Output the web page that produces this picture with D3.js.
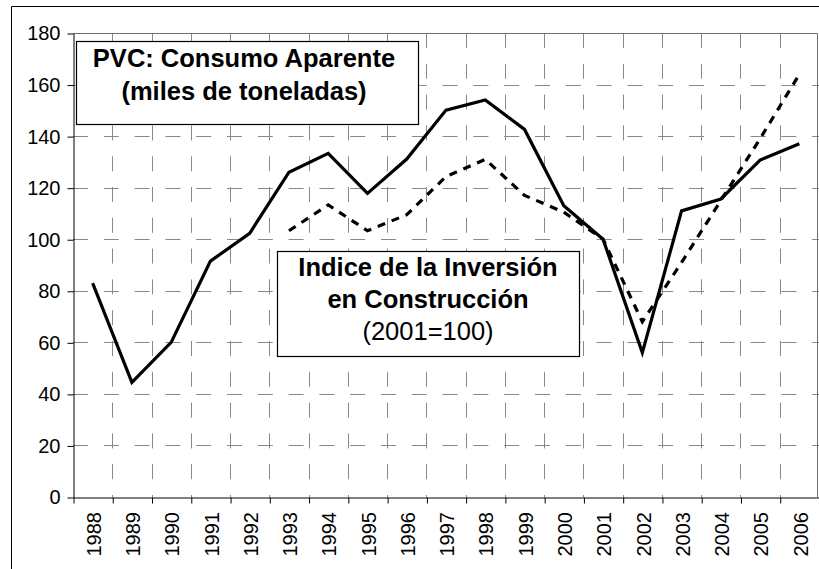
<!DOCTYPE html>
<html>
<head>
<meta charset="utf-8">
<script src="https://cdn.jsdelivr.net/npm/d3@7"></script>
<style>
  html, body { margin: 0; padding: 0; background: #fff; }
  svg { display: block; font-family: Arial, "Liberation Sans", sans-serif; }
</style>
</head>
<body>
<svg id="chart" width="819" height="569" viewBox="0 0 819 569"></svg>
<script>
// Years on the category axis
const years = ["1988","1989","1990","1991","1992","1993","1994","1995","1996","1997",
               "1998","1999","2000","2001","2002","2003","2004","2005","2006"];
// PVC apparent consumption (thousand tonnes)
const pvc = [83, 44.5, 60, 91.5, 102.3, 126, 133.3, 117.8, 131.1, 150.1,
             154, 142.6, 113, 100, 56, 111, 115.6, 130.7, 137];
// Construction investment index (2001=100); no data before 1993
const indice = [null, null, null, null, null, 103.3, 113.3, 103.3, 109.5, 124.3,
                131, 117, 110.5, 100, 68, 91, 115, 139, 164];
// Value-axis ticks
const yTicks = [0, 20, 40, 60, 80, 100, 120, 140, 160, 180];

const svg = d3.select("#chart");
const plot = { left: 73, right: 819, top: 33, bottom: 497 };

const x = d3.scaleBand().domain(years).range([plot.left, plot.right]).padding(0);
const xEdge = d3.scaleLinear().domain([0, years.length]).range([plot.left, plot.right]);
const y = d3.scaleLinear().domain([0, 180]).range([plot.bottom, plot.top]);

const gridColor = "#888888";

// Outer chart frame (left and top edges fall inside the page)
svg.append("path")
  .attr("d", "M11.5,569V6.5H819")
  .attr("fill", "none").attr("stroke", "#000").attr("stroke-width", 1);

// Horizontal gridlines
svg.append("path")
  .attr("d", yTicks.filter(v => v > 0 && v < 180)
    .map(v => `M${plot.left},${Math.round(y(v)) + 0.5}H${plot.right}`).join(""))
  .attr("fill", "none")
  .attr("stroke", gridColor)
  .attr("stroke-width", 1)
  .attr("stroke-dasharray", "15 15.8");

// Vertical gridlines on the category edges, dashed from the top down
svg.append("path")
  .attr("d", d3.range(1, years.length)
    .map(i => `M${Math.round(xEdge(i)) + 0.5},${plot.top}V${plot.bottom}`).join(""))
  .attr("fill", "none")
  .attr("stroke", gridColor)
  .attr("stroke-width", 1)
  .attr("stroke-dasharray", "15 15.8");

// Plot area border (top and right)
svg.append("path")
  .attr("d", `M${plot.left},${plot.top + 0.5}H${plot.right - 1.5}V${plot.bottom}`)
  .attr("fill", "none").attr("stroke", "#707070").attr("stroke-width", 1);

// Value axis
const yAxis = svg.append("g")
  .attr("transform", `translate(${plot.left + 0.5},0.5)`)
  .call(d3.axisLeft(y).tickValues(yTicks).tickSize(6).tickPadding(7).tickSizeOuter(0));
yAxis.select(".domain").attr("stroke", "#000");
yAxis.selectAll(".tick line").attr("stroke", "#000");
yAxis.selectAll(".tick text")
  .attr("font-family", "Arial, 'Liberation Sans', sans-serif")
  .attr("font-size", 20).attr("fill", "#000");

// Category axis: ticks on the category edges, labels centred in each band
const xAxis = svg.append("g")
  .attr("transform", `translate(0.5,${plot.bottom + 0.5})`)
  .call(d3.axisBottom(xEdge).tickValues(d3.range(0, years.length + 1)).tickSize(6).tickFormat("").tickSizeOuter(0));
xAxis.select(".domain").attr("stroke", "#000");
xAxis.selectAll(".tick line").attr("stroke", "#000");

const xLabels = svg.append("g")
  .attr("transform", `translate(0,${plot.bottom})`)
  .call(d3.axisBottom(x).tickSize(0).tickPadding(0));
xLabels.select(".domain").remove();
xLabels.selectAll(".tick text")
  .attr("font-family", "Arial, 'Liberation Sans', sans-serif")
  .attr("font-size", 20).attr("fill", "#000")
  .attr("text-anchor", "end")
  .attr("transform", "translate(1,15) rotate(-90)")
  .attr("x", 0).attr("y", 0).attr("dy", "0.36em");

// Series lines
const cx = (d, i) => x(years[i]) + x.bandwidth() / 2;
const lineGen = d3.line().defined(d => d != null).x(cx).y(d => y(d));

svg.append("path").datum(indice)
  .attr("d", lineGen)
  .attr("fill", "none").attr("stroke", "#000").attr("stroke-width", 3.2)
  .attr("stroke-dasharray", "8,7");

svg.append("path").datum(pvc)
  .attr("d", lineGen)
  .attr("fill", "none").attr("stroke", "#000").attr("stroke-width", 3.2)
  .attr("stroke-linejoin", "miter");

// Text boxes
function textBox(bx, by, bw, bh, lines) {
  const g = svg.append("g");
  g.append("rect")
    .attr("x", bx + 0.5).attr("y", by + 0.5).attr("width", bw).attr("height", bh)
    .attr("fill", "#fff").attr("stroke", "#000").attr("stroke-width", 1.2);
  g.selectAll("text").data(lines).join("text")
    .attr("x", d => d.cx).attr("y", d => d.base)
    .attr("text-anchor", "middle")
    .attr("font-size", 25.5)
    .attr("font-weight", d => d.bold ? "bold" : "normal")
    .attr("fill", "#000")
    .text(d => d.t);
}

textBox(76, 41, 342, 83, [
  { t: "PVC: Consumo Aparente", cx: 244, base: 67, bold: true },
  { t: "(miles de toneladas)", cx: 244, base: 100, bold: true }
]);
textBox(277, 251, 302, 105, [
  { t: "Indice de la Inversión", cx: 428, base: 276, bold: true },
  { t: "en Construcción", cx: 428, base: 308, bold: true },
  { t: "(2001=100)", cx: 428, base: 340, bold: false }
]);
</script>
</body>
</html>
